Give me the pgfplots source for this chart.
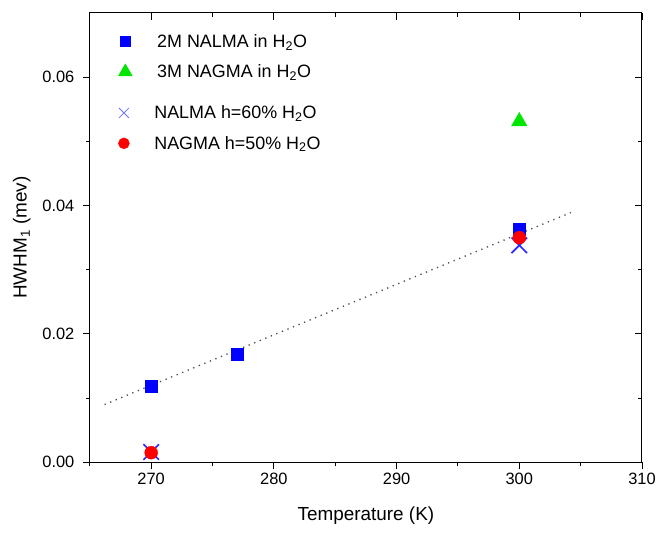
\documentclass[border=0pt]{standalone}
\usepackage{fontspec}
\setmainfont{Liberation Sans}
\usepackage{pgfplots}
\pgfplotsset{compat=1.18}

\definecolor{myblue}{RGB}{0,0,255}
\definecolor{mygreen}{RGB}{0,230,0}
\definecolor{myred}{RGB}{255,0,0}
\definecolor{xblue}{RGB}{40,40,255}
\definecolor{lblue}{RGB}{110,110,255}

\begin{document}
\begin{tikzpicture}
\pgfplotsset{
  common/.style={
    width=553bp, height=450bp, scale only axis,
    xmin=265, xmax=310, ymin=0, ymax=0.07,
    xtick={270,280,...,310}, minor xtick={265,275,...,305},
    ytick={0,0.02,0.04,0.06}, minor ytick={0.01,0.03,0.05},
    scaled ticks=false,
    major tick length=7bp, minor tick length=4bp,
    axis line style={line width=1pt, black},
    every tick/.style={black, line width=0.9pt},
    clip=false,
  },
  mylegend/.style={
    legend cell align=left,
    legend style={draw=none, fill=none, anchor=north west,
      font=\fontsize{18}{21}\selectfont,
      row sep=12bp, column sep=23bp},
  },
}
\begin{axis}[common, mylegend,
  xtick pos=bottom, ytick pos=left, tick align=outside,
  ticklabel style={font=\fontsize{16.5}{19}\selectfont},
  yticklabel style={xshift=-5bp},
  /pgf/number format/assume math mode=true,
  yticklabel style={/pgf/number format/fixed, /pgf/number format/fixed zerofill, /pgf/number format/precision=2},
  xlabel={Temperature (K)}, ylabel={HWHM\textsubscript{1} (mev)},
  label style={font=\fontsize{19}{22}\selectfont},
  xlabel style={at={(axis description cs:0.5,-0.129)}, anchor=base},
  ylabel style={at={(axis description cs:-0.101,0.5)}, anchor=south},
  legend style={at={(0.046,0.962)}},
]
% page margins as in the reference
\path (axis description cs:-0.1627,-0.1578) (axis description cs:1.0289,1.0289);
% dotted fit line
\addplot[forget plot, color=black!70, line width=1.3bp, dash pattern=on 1.3bp off 4.7bp]
  coordinates {(266.2,0.0090) (304.2,0.0389)};
% 2M NALMA in H2O
\addplot[forget plot, only marks, mark=square*, mark size=6bp, color=myblue]
  coordinates {(270,0.0118) (277,0.0169) (300,0.0363)};
% 3M NAGMA in H2O
\addplot[forget plot, only marks, mark=triangle*, mark size=9bp, color=mygreen]
  coordinates {(300,0.0531)};
\addlegendimage{only marks, mark=square*, mark size=5bp, color=myblue}
\addlegendentry{2M NALMA in H\textsubscript{2}O}
\addlegendimage{only marks, mark=triangle*, mark size=8bp, color=mygreen}
\addlegendentry{3M NAGMA in H\textsubscript{2}O}
\end{axis}

\begin{axis}[common, mylegend,
  xtick pos=top, ytick pos=right, tick align=inside,
  xticklabels={}, yticklabels={},
  legend style={at={(0.046,0.803)}},
]
% NALMA h=60% H2O
\addplot[forget plot, only marks, mark=x, mark size=11bp, color=xblue, mark options={line width=1.6bp}]
  coordinates {(270,0.0016) (300,0.0338)};
% NAGMA h=50% H2O
\addplot[forget plot, only marks, mark=*, mark size=6.5bp, color=myred]
  coordinates {(270,0.0015) (300,0.0350)};
\addlegendimage{only marks, mark=x, mark size=7bp, color=lblue, mark options={line width=0.8bp}}
\addlegendentry{NALMA h=60\% H\textsubscript{2}O}
\addlegendimage{only marks, mark=*, mark size=5.5bp, color=myred}
\addlegendentry{NAGMA h=50\% H\textsubscript{2}O}
\end{axis}
\end{tikzpicture}
\end{document}
